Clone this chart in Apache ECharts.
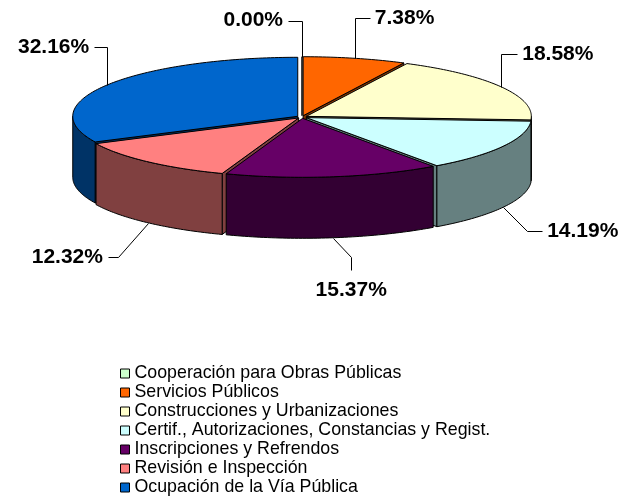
<!DOCTYPE html>
<html>
<head>
<meta charset="utf-8">
<script src="https://cdn.jsdelivr.net/npm/echarts@6/dist/echarts.min.js"></script>
<style>
html, body { margin: 0; padding: 0; background: #fff; }
#main { width: 631px; height: 499px; }
</style>
</head>
<body>
<div id="main"></div>
<script>
// datos
var categories = ['Cooperación para Obras Públicas', 'Servicios Públicos', 'Construcciones y Urbanizaciones',
    'Certif., Autorizaciones, Constancias y Regist.', 'Inscripciones y Refrendos', 'Revisión e Inspección',
    'Ocupación de la Vía Pública'];
var values = [0.00, 7.38, 18.58, 14.19, 15.37, 12.32, 32.16];
var colors = ['#CCFFCC', '#FF6600', '#FFFFCC', '#CCFFFF', '#660066', '#FF8080', '#0066CC'];

// pastel 3D: centro, radios, grosor y separacion
var cx = 302, cy = 117, rx = 225, ry = 59, depth = 61, explode = 5;
// lineas guia de etiquetas: codo (dx, dy) y tramo final (dx, dy)
var leaders = [[0, -36, -14, 0], [0, -40, 15, 0], [0, -33, 16, 0], [24, 24, 15, 0],
    [18, 19, 0, 13], [-30, 34, -10, 0], [0, -38, -13, 0]];

var total = values.reduce(function (a, b) { return a + b; }, 0);
var cum = [];
values.reduce(function (acc, v, i) { cum[i] = acc; return acc + v; }, 0);

function darken(hex) {
    var n = parseInt(hex.slice(1), 16);
    var r = Math.round(((n >> 16) & 255) * 0.5), g = Math.round(((n >> 8) & 255) * 0.5), b = Math.round((n & 255) * 0.5);
    return 'rgb(' + r + ',' + g + ',' + b + ')';
}

function renderSlice(i) {
    return function (params, api) {
        var v = api.value(0);
        var start = cum[i] / total * Math.PI * 2;
        var end = start + v / total * Math.PI * 2;
        var mid = (start + end) / 2;
        var ox = explode * Math.sin(mid), oy = -explode * Math.cos(mid) * ry / rx;

        function pt(a, dz) {
            return [cx + ox + rx * Math.sin(a), cy + oy - ry * Math.cos(a) + dz];
        }
        function arc(a0, a1, dz) {
            var n = Math.max(1, Math.ceil((a1 - a0) / (Math.PI / 180)));
            var pts = [];
            for (var k = 0; k <= n; k++) pts.push(pt(a0 + (a1 - a0) * k / n, dz));
            return pts;
        }
        function face(a) {
            var c = [cx + ox, cy + oy];
            var r = pt(a, 0);
            return [c, r, [r[0], r[1] + depth], [c[0], c[1] + depth]];
        }

        var side = darken(colors[i]);
        var edge = { stroke: '#000', lineWidth: 1 };
        var children = [];

        // caras radiales visibles (las mas cercanas se pintan despues)
        [[end, Math.sin(end) > 1e-6], [start, Math.sin(start) < -1e-6]].forEach(function (f) {
            if (!f[1]) return;
            var pts = face(f[0]);
            children.push({
                type: 'polygon', z2: 1 + pts[1][1] / 1000,
                shape: { points: pts }, style: Object.assign({ fill: side }, edge)
            });
        });
        // pared exterior (mitad frontal)
        var a0 = Math.max(start, Math.PI / 2), a1 = Math.min(end, Math.PI * 1.5);
        if (a1 > a0) {
            var wall = arc(a0, a1, 0).concat(arc(a0, a1, depth).reverse());
            children.push({ type: 'polygon', z2: 2, shape: { points: wall }, style: Object.assign({ fill: side }, edge) });
        }
        // cara superior
        var top = [[cx + ox, cy + oy]].concat(arc(start, end, 0));
        children.push({ type: 'polygon', z2: 3, shape: { points: top }, style: Object.assign({ fill: colors[i] }, edge) });

        // etiqueta con linea guia
        var anchor = Math.cos(mid) > 0 ? pt(mid, 0) : pt(mid, depth);
        var L = leaders[i];
        var elbow = [anchor[0] + L[0], anchor[1] + L[1]];
        var tail = [elbow[0] + L[2], elbow[1] + L[3]];
        var crisp = function (p) { return [Math.round(p[0]) + 0.5, Math.round(p[1]) + 0.5]; };
        children.push({
            type: 'polyline', z2: 4,
            shape: { points: [crisp(anchor), crisp(elbow), crisp(tail)] },
            style: { stroke: '#000', lineWidth: 1, fill: null }
        });
        var tx = tail[0], ty = tail[1], align = 'left', valign = 'middle';
        if (L[2] < 0) { tx -= 5; align = 'right'; }
        else if (L[2] > 0) { tx += 5; }
        else { ty += 10; align = 'center'; valign = 'top'; }
        children.push({
            type: 'text', z2: 4,
            style: {
                text: v.toFixed(2) + '%', x: tx, y: ty, align: align, verticalAlign: valign,
                fill: '#000', font: 'bold 21px "Liberation Sans", Arial, sans-serif'
            }
        });
        return { type: 'group', children: children };
    };
}

var chart = echarts.init(document.getElementById('main'));
var series = categories.map(function (name, i) {
    return {
        type: 'custom',
        name: name,
        coordinateSystem: 'none',
        silent: true,
        itemStyle: { color: colors[i] },
        renderItem: renderSlice(i),
        data: [[values[i]]]
    };
});

chart.setOption({
    animation: false,
    color: colors,
    legend: {
        orient: 'vertical',
        left: 120,
        top: 364,
        padding: 0,
        itemGap: 0,
        itemWidth: 9,
        itemHeight: 9,
        icon: 'rect',
        selectedMode: false,
        itemStyle: { borderColor: '#000', borderWidth: 1 },
        textStyle: { fontFamily: '"Liberation Sans", Arial, sans-serif', fontSize: 17.8, color: '#000', lineHeight: 19 },
        data: categories
    },
    series: series
});
</script>
</body>
</html>
